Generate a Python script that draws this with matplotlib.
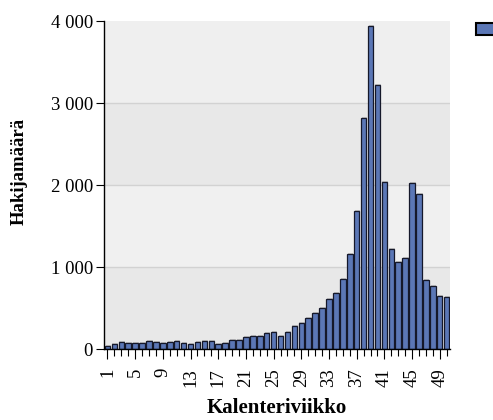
import matplotlib.pyplot as plt
from matplotlib.patches import Patch
from matplotlib.ticker import FuncFormatter, MultipleLocator, FixedLocator
import numpy as np

# weekly applicant counts, weeks 1..50
weeks = list(range(1, 51))
applicants = [33, 65, 89, 77, 69, 69, 98, 85, 69, 89,
              98, 77, 61, 81, 98, 98, 57, 69, 106, 110,
              143, 159, 159, 191, 207, 155, 211, 280, 313, 382,
              435, 504, 614, 679, 854, 1155, 1683, 2813, 3939, 3220,
              2041, 1215, 1057, 1110, 2020, 1890, 841, 772, 646, 630]
major_weeks = list(range(1, 51, 4))
y_ticks = [0, 1000, 2000, 3000, 4000]

plt.rcParams['font.family'] = ['Liberation Serif', 'DejaVu Serif']

bar_color = '#5b77b6'
edge_color = '#15182a'

fig = plt.figure(figsize=(4.93, 4.2), dpi=100)
ax = fig.add_axes([0.211, 0.169, 0.702, 0.781])

# alternating background bands
band_colors = ['#e8e8e8', '#f0f0f0', '#e8e8e8', '#efefef']
for i, c in enumerate(band_colors):
    ax.axhspan(y_ticks[i], y_ticks[i + 1], color=c, zorder=0, lw=0)
for t in y_ticks[1:-1]:
    ax.axhline(t, color='#d2d2d2', lw=1, zorder=1)

x = np.array(weeks)
# faint shadow behind bars
ax.bar(x + 0.12, np.array(applicants) + 12, width=0.8, color='#9a9a9a', alpha=0.5, zorder=2, lw=0)
ax.bar(x, applicants, width=0.8, color=bar_color, edgecolor=edge_color, linewidth=0.9, zorder=3)

ax.set_xlim(0.5, 50.5)
ax.set_ylim(0, 4000)
ax.set_yticks(y_ticks)
ax.yaxis.set_major_formatter(FuncFormatter(lambda v, p: f'{int(v):,}'.replace(',', ' ')))
ax.xaxis.set_major_locator(FixedLocator(major_weeks))
ax.xaxis.set_minor_locator(MultipleLocator(1))
ax.set_xticklabels([str(w) for w in major_weeks], rotation=90)

ax.tick_params(axis='y', length=6, width=0.8, labelsize=13.5, pad=2)
ax.tick_params(axis='x', which='major', length=7.5, width=0.8, labelsize=13.5, pad=6)
ax.tick_params(axis='x', which='minor', length=5, width=0.8)

for s in ['top', 'right']:
    ax.spines[s].set_visible(False)
ax.spines['left'].set_linewidth(1)
ax.spines['bottom'].set_linewidth(1)
ax.spines['left'].set_zorder(5)
ax.spines['bottom'].set_zorder(5)

ax.set_xlabel('Kalenteriviikko', fontsize=15, fontweight='bold', labelpad=8)
ax.set_ylabel('Hakijamäärä', fontsize=13.5, fontweight='bold')
ax.yaxis.set_label_coords(-0.22, 0.54)

fig.legend(handles=[Patch(facecolor=bar_color, edgecolor='black', linewidth=1.5)],
           labels=[''], loc='upper left', bbox_to_anchor=(0.9655, 0.946),
           frameon=False, handlelength=1.6, handleheight=1.0, borderpad=0,
           borderaxespad=0, handletextpad=0)

fig.savefig('out.png', dpi=100)
